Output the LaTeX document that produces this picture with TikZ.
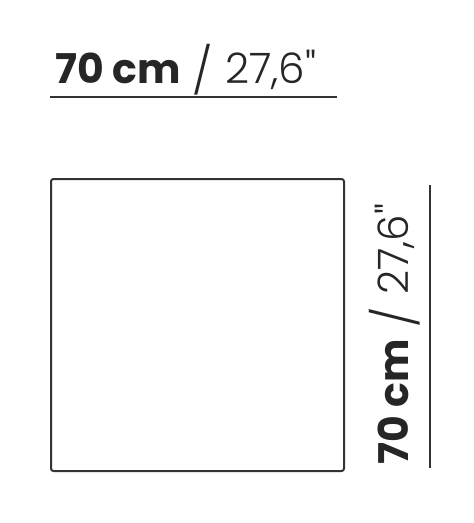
\documentclass[tikz,border=0pt]{standalone}
\usepackage{fontspec}
\setmainfont{Poppins}
\newfontfamily\lightf{Poppins Light}
\newcommand{\dimlabel}{\textbf{70 cm}\hspace{12pt}{\lightf\fontsize{46}{46}\selectfont\raisebox{-4pt}{/}\hspace{12pt}\fontsize{42}{42}\selectfont 27,6\symbol{34}}}
\begin{document}
\begin{tikzpicture}[x=1pt,y=-1pt,
  dimtext/.style={inner sep=0pt,font=\fontsize{41}{41}\selectfont,text=black!85},
  dimline/.style={line width=1.8pt,draw=black!80},
  plate/.style={line width=2pt,draw=black!80,rounded corners=2.5pt}]
\useasboundingbox (0,0) rectangle (474,523);
\node[dimtext,anchor=base west] (wtext) at (55,83) {\dimlabel};
\coordinate (wl) at (50,97);
\coordinate (wr) at (337,97);
\draw[dimline] (wl) -- (wr);
\draw[plate] (51,179) rectangle (344,471);
\node[dimtext,anchor=base west,rotate=90] (htext) at (408,465) {\dimlabel};
\coordinate (ht) at (430,185);
\coordinate (hb) at (430,468);
\draw[dimline] (hb) -- (ht);
\end{tikzpicture}
\end{document}
